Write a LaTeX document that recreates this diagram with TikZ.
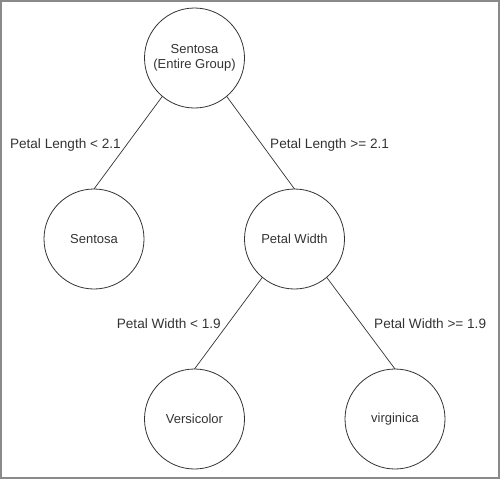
\documentclass[tikz,border=0pt]{standalone}
\usepackage{fontspec}
\setmainfont{Liberation Sans}
\definecolor{ink}{HTML}{333333}
\definecolor{framegray}{HTML}{8A8A8A}
\begin{document}
\begin{tikzpicture}[x=1pt,y=-1pt,
  treenode/.style={circle,draw=ink,line width=0.8pt,minimum size=100pt,inner sep=0pt,outer sep=0pt,
    text=ink,font=\fontsize{13}{14.5}\selectfont,align=center},
  edgelabel/.style={text=ink,font=\fontsize{13.6}{15}\selectfont,inner sep=0pt},
  branch/.style={draw=ink,line width=0.7pt}]
\useasboundingbox (0,0) rectangle (500,479);
\draw[framegray,line width=1.6pt] (0.8,0.8) rectangle (499.2,478.2);
\node[treenode] (root) at (194.5,58) {Sentosa\\(Entire Group)};
\node[treenode] (sent) at (94,239) {Sentosa};
\node[treenode] (pw) at (294.5,239) {Petal Width};
\node[treenode] (vers) at (194.5,419) {Versicolor};
\node[treenode] (virg) at (395,419) {virginica};
\draw[branch] (root.230) -- (sent.north);
\draw[branch] (root.310) -- (pw.north);
\draw[branch] (pw.230) -- (vers.north);
\draw[branch] (pw.310) -- (virg.north);
\node[edgelabel,anchor=base east] (l1) at (121,148) {Petal Length < 2.1};
\node[edgelabel,anchor=base west] (l2) at (270,148) {Petal Length >= 2.1};
\node[edgelabel,anchor=base east] (l3) at (221,328) {Petal Width < 1.9};
\node[edgelabel,anchor=base west] (l4) at (374,328) {Petal Width >= 1.9};
\end{tikzpicture}
\end{document}
